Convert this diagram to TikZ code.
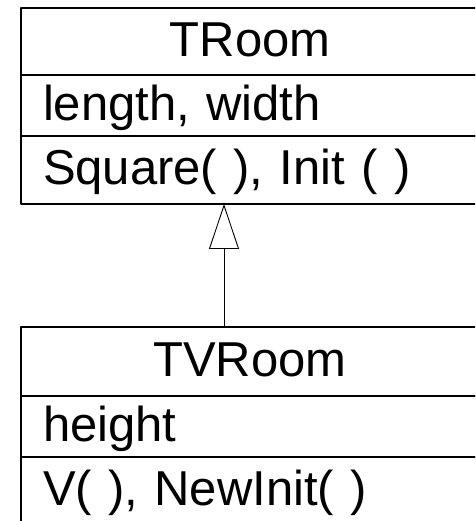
\documentclass[tikz,border=0pt]{standalone}
\usepackage{fontspec}
\setmainfont{Liberation Sans}
\usetikzlibrary{positioning,arrows.meta}
\begin{document}
\begin{tikzpicture}[x=1pt, y=1pt, line cap=round, line join=round,
  font=\fontsize{49}{55}\selectfont,
  namebox/.style={draw, line width=1.3pt, minimum width=458pt, text height=38pt, text depth=8pt, inner sep=0pt, outer sep=0pt},
  partbox/.style={draw, line width=1.3pt, text width=414pt, text height=38pt, text depth=8pt, inner xsep=22pt, inner ysep=0pt, align=left, outer sep=0pt},
  inherit/.style={-{Triangle[open, length=45pt, width=30pt]}, line width=0.9pt}]
  \path[use as bounding box, clip] (0,0) rectangle (475,521);

  % TRoom
  \node[namebox, minimum height=67pt] (troom) at (250,479.5) {TRoom};
  \node[partbox, minimum height=61pt, below=0pt of troom] (troomattr) {length, width};
  \node[partbox, minimum height=68pt, below=0pt of troomattr] (troomops) {Square( ), Init ( )};

  % TVRoom
  \node[namebox, minimum height=69pt] (tvroom) at (250,159.5) {TVRoom};
  \node[partbox, minimum height=61pt, below=0pt of tvroom] (tvroomattr) {height};
  \node[partbox, minimum height=68pt, below=0pt of tvroomattr] (tvroomops) {V( ), NewInit( )};

  % inheritance
  \draw[inherit] ([xshift=-26pt]tvroom.north) -- ([xshift=-26pt]troomops.south);
\end{tikzpicture}
\end{document}
